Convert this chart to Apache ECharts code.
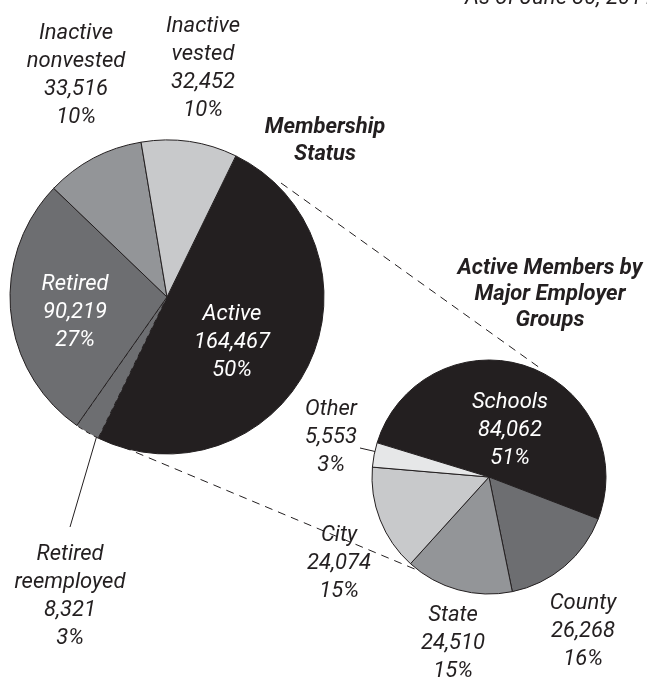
<!DOCTYPE html>
<html>
<head>
<meta charset="utf-8">
<script src="https://cdn.jsdelivr.net/npm/echarts@6/dist/echarts.min.js"></script>
<style>html,body{margin:0;background:#fff}#main{width:647px;height:681px}</style>
</head>
<body>
<div id="main"></div>
<script>
var chartDom = document.getElementById('main');
var myChart = echarts.init(chartDom);
var option;

// membership status (big pie), clockwise from Active
const statusNames = ['Active', 'Retired reemployed', 'Retired', 'Inactive nonvested', 'Inactive vested'];
const statusValues = [164467, 8321, 90219, 33516, 32452];
// active members by employer group (small pie)
const groupNames = ['Schools', 'County', 'State', 'City', 'Other'];
const groupValues = [84062, 26268, 24510, 24074, 5553];

const statusColors = ['#231f20', '#6d6e71', '#6d6e71', '#939598', '#c8c9cb'];
const groupColors = ['#231f20', '#6d6e71', '#939598', '#c8c9cb', '#e6e7e8'];
const ink = '#231f20';
const font = 'Roboto, "Liberation Sans", sans-serif';

// label centres
const statusLabelPos = [[232, 342], [70, 596], [75, 312], [76, 75], [203, 68]];
const groupLabelPos = [[510, 430], [583, 631], [453, 643], [339, 563], [331, 437]];

function fmt(p) {
  return p.name.replace(' ', '\n') + '\n' + echarts.format.addCommas(p.value) + '\n' + Math.round(p.percent) + '%';
}

const labelBase = {
  position: 'outside',
  formatter: fmt,
  fontFamily: font,
  fontStyle: 'italic',
  fontSize: 22,
  lineHeight: 28,
  color: ink
};

option = {
  animation: false,
  graphic: [
    { type: 'text', x: 465, y: 9, style: { text: 'As of June 30, 2011', font: 'italic 22px ' + font, fill: ink, verticalAlign: 'bottom' } },
    { type: 'text', x: 325, y: 141, style: { text: 'Membership\nStatus', font: 'italic bold 22px ' + font, lineHeight: 27, fill: ink, align: 'center', verticalAlign: 'middle' } },
    { type: 'text', x: 550, y: 294, style: { text: 'Active Members by\nMajor Employer\nGroups', font: 'italic bold 22px ' + font, lineHeight: 26, fill: ink, align: 'center', verticalAlign: 'middle' } },
    { type: 'line', shape: { x1: 281, y1: 183, x2: 540, y2: 368 }, style: { stroke: ink, lineWidth: 1, lineDash: [8, 6] } },
    { type: 'line', shape: { x1: 123, y1: 447, x2: 417, y2: 570 }, style: { stroke: ink, lineWidth: 1, lineDash: [8, 6] } }
  ],
  series: [
    {
      name: 'Membership Status',
      type: 'pie',
      center: [167, 297],
      radius: 157,
      startAngle: 64,
      avoidLabelOverlap: false,
      itemStyle: { borderColor: ink, borderWidth: 1 },
      label: labelBase,
      labelLine: { show: false },
      labelLayout: function (p) {
        const pos = statusLabelPos[p.dataIndex];
        const out = { x: pos[0], y: pos[1], align: 'center', verticalAlign: 'middle' };
        if (p.dataIndex === 1) out.labelLinePoints = [[100, 425], [85, 476], [70, 527]];
        return out;
      },
      data: statusNames.map(function (n, i) {
        return {
          name: n,
          value: statusValues[i],
          itemStyle: i === 1 ? { color: statusColors[i], borderType: [5, 4] } : { color: statusColors[i] },
          label: { color: (i === 0 || i === 2) ? '#fff' : ink },
          labelLine: { show: i === 1, lineStyle: { color: ink, width: 1 } }
        };
      })
    },
    {
      name: 'Active Members by Major Employer Groups',
      type: 'pie',
      center: [489, 477],
      radius: 117,
      startAngle: 163,
      avoidLabelOverlap: false,
      itemStyle: { borderColor: ink, borderWidth: 1 },
      label: labelBase,
      labelLine: { show: false },
      labelLayout: function (p) {
        const pos = groupLabelPos[p.dataIndex];
        const out = { x: pos[0], y: pos[1], align: 'center', verticalAlign: 'middle' };
        if (p.dataIndex === 4) out.labelLinePoints = [[360, 448], [373, 451], [387, 455]];
        return out;
      },
      data: groupNames.map(function (n, i) {
        return {
          name: n,
          value: groupValues[i],
          itemStyle: { color: groupColors[i] },
          label: { color: i === 0 ? '#fff' : ink },
          labelLine: { show: i === 4, lineStyle: { color: ink, width: 1 } }
        };
      })
    }
  ]
};

option && myChart.setOption(option);
</script>
</body>
</html>
